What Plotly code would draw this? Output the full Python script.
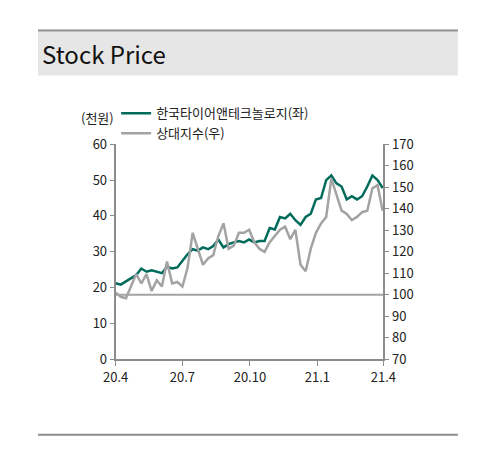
import plotly.graph_objects as go
import pandas as pd

dates = pd.date_range("2020-04-01", periods=53, freq="7D")

hankook = [21.2, 20.8, 21.7, 22.6, 23.5, 25.3, 24.4, 24.8, 24.4, 24.0, 25.8, 25.3, 25.6,
           27.5, 29.3, 30.7, 30.3, 31.2, 30.7, 31.6, 33.4, 31.2, 32.1, 32.6, 33.0, 32.6,
           33.4, 32.6, 33.0, 33.0, 36.6, 36.2, 39.7, 39.3, 40.6, 38.8, 37.5, 39.7, 40.6,
           44.6, 45.0, 50.0, 51.3, 49.1, 48.2, 44.6, 45.5, 44.6, 45.5, 48.2, 51.3, 50.0, 47.8]

relative = [100.9, 99.0, 98.3, 103.8, 109.6, 105.2, 109.6, 101.7, 106.7, 103.8, 115.4, 105.2,
            105.9, 103.8, 112.5, 128.8, 121.4, 113.9, 116.9, 118.4, 127.3, 133.2, 121.4,
            122.8, 128.8, 128.8, 130.2, 124.4, 121.4, 119.9, 124.4, 127.3, 130.2, 131.7,
            125.8, 130.2, 113.9, 110.9, 121.4, 128.8, 133.2, 136.2, 154.0, 146.6, 139.1,
            137.6, 134.7, 136.2, 138.4, 139.1, 149.5, 151.0, 139.1]

tick_vals = ["2020-04-01", "2020-07-01", "2020-10-01", "2021-01-01", "2021-04-01"]
tick_text = ["20.4", "20.7", "20.10", "21.1", "21.4"]

green = "#006b5a"
gray = "#a3a3a3"
axis_col = "#8c8c8c"
font = "Noto Sans CJK KR"

fig = go.Figure()
fig.add_trace(go.Scatter(x=dates, y=hankook, name="한국타이어앤테크놀로지(좌)",
                         line=dict(color=green, width=2.5)))
fig.add_trace(go.Scatter(x=dates, y=relative, name="상대지수(우)", yaxis="y2",
                         line=dict(color=gray, width=2.5)))
fig.add_trace(go.Scatter(x=[dates[0], pd.Timestamp("2021-04-01")], y=[100, 100], yaxis="y2",
                         mode="lines", line=dict(color=gray, width=2), showlegend=False))

fig.update_layout(
    width=479, height=453, margin=dict(l=0, r=0, t=0, b=0),
    plot_bgcolor="white", paper_bgcolor="white",
    font=dict(family=font, size=13, color="#222"),
    xaxis=dict(domain=[0.209, 0.800], type="date", range=["2020-04-01", "2021-04-01"],
               tickvals=tick_vals, ticktext=tick_text, showgrid=False, showline=True,
               linecolor=axis_col, linewidth=2, ticks="outside", tickcolor=axis_col, ticklen=5),
    yaxis=dict(domain=[0.214, 0.709], range=[0, 60], dtick=10, showgrid=False, showline=True,
               linecolor=axis_col, linewidth=2, ticks="outside", tickcolor=axis_col, ticklen=4),
    yaxis2=dict(overlaying="y", side="right", anchor="x", range=[70, 170], dtick=10,
                showgrid=False, showline=True, linecolor=axis_col, linewidth=2,
                ticks="outside", tickcolor=axis_col, ticklen=4),
    legend=dict(x=0.21, y=0.815, xanchor="left", yanchor="top", bgcolor="rgba(0,0,0,0)",
                tracegroupgap=8, font=dict(size=13)),
    shapes=[
        dict(type="rect", xref="paper", yref="paper", x0=18/479, x1=462/479,
             y0=1-60/453, y1=1-14/453, fillcolor="#e6e6e6", line=dict(width=0), layer="below"),
        dict(type="line", xref="paper", yref="paper", x0=18/479, x1=462/479,
             y0=1-13/453, y1=1-13/453, line=dict(color=axis_col, width=2)),
        dict(type="line", xref="paper", yref="paper", x0=18/479, x1=462/479,
             y0=1-435/453, y1=1-435/453, line=dict(color=axis_col, width=2)),
    ],
    annotations=[
        dict(text="Stock Price", xref="paper", yref="paper", x=20/479, y=1-37/453,
             xanchor="left", yanchor="middle", showarrow=False,
             font=dict(size=24, color="#111", family=font)),
        dict(text="(천원)", xref="paper", yref="paper", x=100/479, y=1-104/453,
             xanchor="right", yanchor="middle", showarrow=False, font=dict(size=13)),
    ],
)

fig.write_html("out.html")
